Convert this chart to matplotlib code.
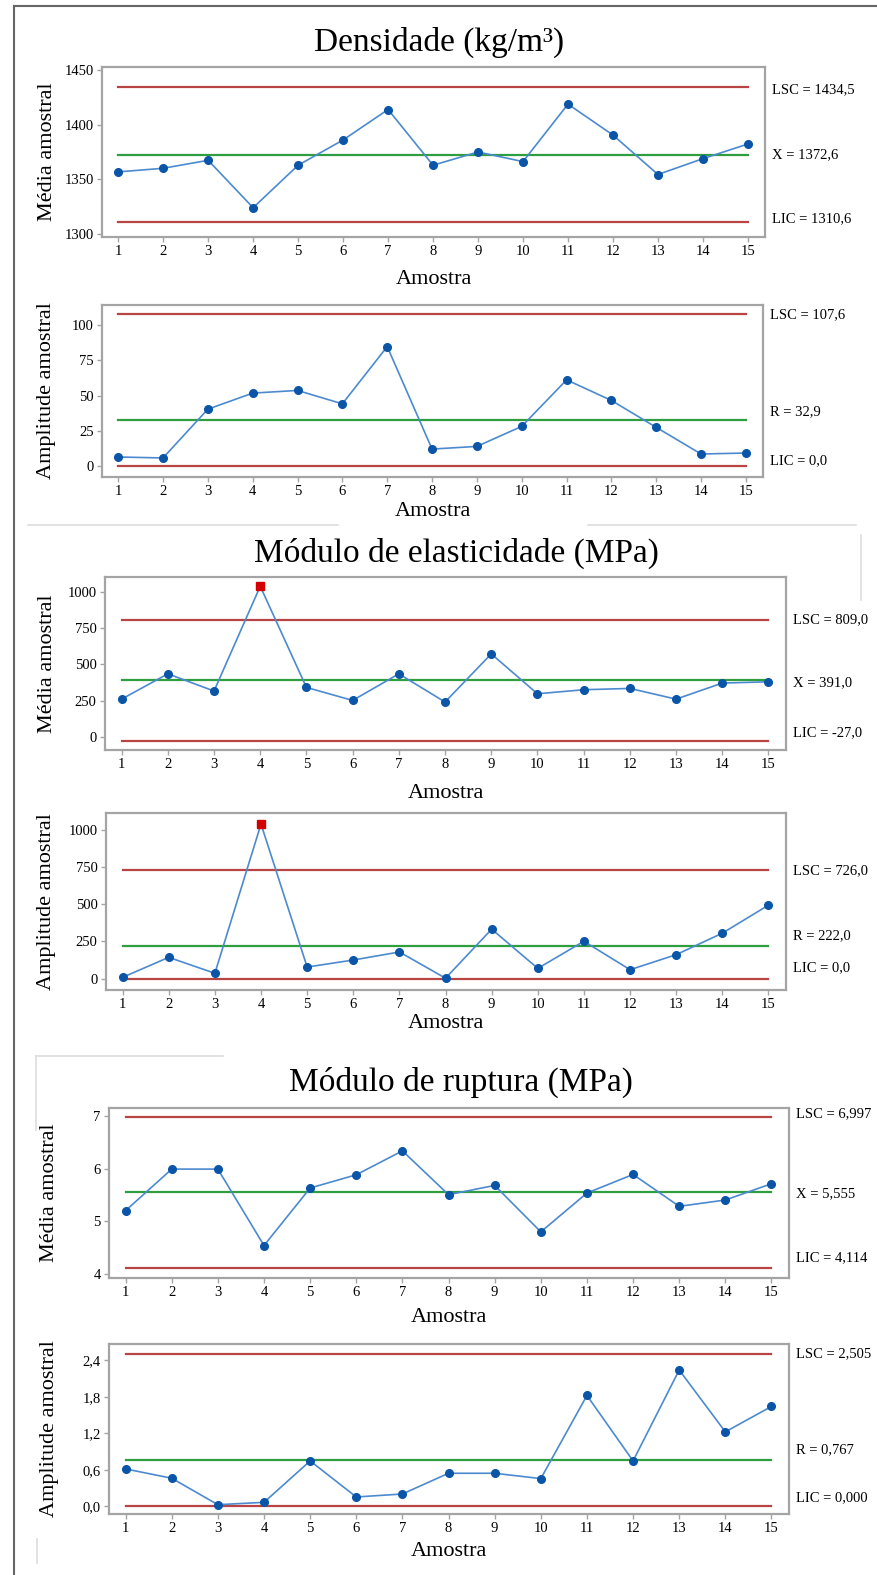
#!/usr/bin/env python
# -*- coding: utf-8 -*-

import matplotlib
matplotlib.use('Agg')
import matplotlib.pyplot as plt
from matplotlib.lines import Line2D

# dados (cartas X-barra e R, 15 amostras)
amostras = list(range(1, 16))

dens_media = [1356.8, 1360.1, 1367.4, 1324.0, 1362.9, 1386.0, 1413.9, 1362.9,
              1375.0, 1366.2, 1418.8, 1390.5, 1354.4, 1368.9, 1382.3]
dens_amplitude = [6.4, 5.7, 40.3, 51.7, 53.6, 44.1, 84.7, 12.0,
                  13.9, 28.1, 61.1, 46.5, 27.4, 8.5, 9.2]
dens_lim_media = [1434.5, 1372.6, 1310.6]  # LSC, X, LIC
dens_lim_amplitude = [107.6, 32.9, 0.0]

moe_media = [260, 435, 316, 1041, 341, 251, 435, 240,
             573, 297, 325, 334, 260, 371, 380]
moe_amplitude = [9, 143, 36, 1037, 78, 125, 179, 3,
                 332, 69, 251, 60, 161, 305, 493]
moe_lim_media = [809.0, 391.0, -27.0]
moe_lim_amplitude = [726.0, 222.0, 0.0]

mor_media = [5.204, 5.996, 5.996, 4.538, 5.635, 5.888, 6.344, 5.508,
             5.685, 4.798, 5.539, 5.894, 5.286, 5.406, 5.717]
mor_amplitude = [0.615, 0.462, 0.027, 0.066, 0.747, 0.154, 0.203, 0.544,
                 0.544, 0.456, 1.824, 0.747, 2.242, 1.225, 1.643]
mor_lim_media = [6.997, 5.555, 4.114]
mor_lim_amplitude = [2.505, 0.767, 0.000]

titulos = ["Densidade (kg/m³)", "Módulo de elasticidade (MPa)", "Módulo de ruptura (MPa)"]

rotulos_lim = [
    ["LSC = 1434,5", "X = 1372,6", "LIC = 1310,6"],
    ["LSC = 107,6", "R = 32,9", "LIC = 0,0"],
    ["LSC = 809,0", "X = 391,0", "LIC = -27,0"],
    ["LSC = 726,0", "R = 222,0", "LIC = 0,0"],
    ["LSC = 6,997", "X = 5,555", "LIC = 4,114"],
    ["LSC = 2,505", "R = 0,767", "LIC = 0,000"],
]

yticks = [
    [1300, 1350, 1400, 1450],
    [0, 25, 50, 75, 100],
    [0, 250, 500, 750, 1000],
    [0, 250, 500, 750, 1000],
    [4, 5, 6, 7],
    [0.0, 0.6, 1.2, 1.8, 2.4],
]
yticklabels = [
    ["1300", "1350", "1400", "1450"],
    ["0", "25", "50", "75", "100"],
    ["0", "250", "500", "750", "1000"],
    ["0", "250", "500", "750", "1000"],
    ["4", "5", "6", "7"],
    ["0,0", "0,6", "1,2", "1,8", "2,4"],
]

# ---- layout (pixels da imagem 877x1575) ----
W, H = 877, 1575
caixas = [  # left, top, right, bottom
    (102, 67, 765, 237),
    (102, 305, 763, 477),
    (105, 577, 786, 750),
    (106, 813, 786, 990),
    (109, 1108, 789, 1278),
    (109, 1344, 789, 1514),
]
ylims = [(1297.2, 1452.8), (-7.8, 114.2), (-92, 1105),
         (-76, 1111), (3.918, 7.162), (-0.126, 2.67)]
# deslocamento vertical dos rotulos LSC / centro / LIC (pontos)
desloc = [(-2, 0, 3), (0, 6, 4), (0, -2, 6), (0, 7, 8), (2, -1, 7), (0, 7, 6)]
titulo_pos = [(439, 42), (456, 553), (461, 1082)]
amostra_y = [279, 511, 793, 1024, 1318, 1551]
ylabel_x = [47, 47, 47, 47, 50, 50]

VERMELHO = '#B84543'
VERDE = '#2E9E3E'
AZUL_LINHA = '#4C8AD0'
AZUL_PONTO = '#0A55A8'
CINZA = '#A4A4A4'
FONTE = ['Liberation Serif', 'DejaVu Serif']


def main():
    plt.rcParams['font.family'] = FONTE
    fig = plt.figure(figsize=(W / 100., H / 100.), dpi=100)

    series = [dens_media, dens_amplitude, moe_media, moe_amplitude, mor_media, mor_amplitude]
    limites = [dens_lim_media, dens_lim_amplitude, moe_lim_media, moe_lim_amplitude,
               mor_lim_media, mor_lim_amplitude]
    ylabels = ["Média amostral", "Amplitude amostral"] * 3

    for i in range(6):
        l, t, r, b = caixas[i]
        ax = fig.add_axes([l / W, 1 - b / H, (r - l) / W, (b - t) / H])

        lsc, centro, lic = limites[i]
        x0, x1 = amostras[0], amostras[-1]
        ax.plot([x0, x1], [lsc, lsc], color=VERMELHO, lw=1.6, zorder=1)
        ax.plot([x0, x1], [lic, lic], color=VERMELHO, lw=1.6, zorder=1)
        ax.plot([x0, x1], [centro, centro], color=VERDE, lw=1.6, zorder=1)

        ax.plot(amostras, series[i], color=AZUL_LINHA, lw=1.2, zorder=2)
        # pontos fora de controle em vermelho (quadrado)
        dentro_x = [a for a, v in zip(amostras, series[i]) if v <= lsc]
        dentro_y = [v for v in series[i] if v <= lsc]
        fora_x = [a for a, v in zip(amostras, series[i]) if v > lsc]
        fora_y = [v for v in series[i] if v > lsc]
        ax.plot(dentro_x, dentro_y, 'o', color=AZUL_PONTO, ms=5.5, zorder=3)
        ax.plot(fora_x, fora_y, 's', color='#D40000', ms=5.5, zorder=3)

        for k, v in enumerate(limites[i]):
            ax.annotate(rotulos_lim[i][k], xy=(1, v), xycoords=('axes fraction', 'data'),
                        xytext=(5, desloc[i][k]), textcoords='offset points',
                        va='center', ha='left', fontsize=10.5, annotation_clip=False)

        ax.set_xlim(0.64, 15.38)
        ax.set_ylim(*ylims[i])
        ax.set_xticks(amostras)
        ax.set_yticks(yticks[i])
        ax.set_yticklabels(yticklabels[i])
        ax.tick_params(direction='out', length=3.5, width=1, color=CINZA,
                       labelsize=10.5, pad=2.5)
        for s in ax.spines.values():
            s.set_color(CINZA)
            s.set_linewidth(1.6)

        fig.text((l + r) / 2. / W, 1 - amostra_y[i] / H, "Amostra",
                 ha='center', va='center', fontsize=16)
        fig.text(ylabel_x[i] / W, 1 - (t + b) / 2. / H, ylabels[i],
                 ha='center', va='center', rotation=90, fontsize=16)

    for j in range(3):
        x, y = titulo_pos[j]
        fig.text(x / W, 1 - y / H, titulos[j], ha='center', va='center', fontsize=24)

    # molduras e restos de linhas do documento original
    def linha(xs, ys, cor, lw):
        fig.add_artist(Line2D([v / W for v in xs], [1 - v / H for v in ys],
                              transform=fig.transFigure, color=cor, lw=lw))

    linha([14, 14], [6, 1575], '#666666', 1.5)
    linha([14, 877], [6, 6], '#666666', 1.5)
    linha([28, 338], [525, 525], '#DDDDDD', 1.2)
    linha([588, 856], [525, 525], '#DDDDDD', 1.2)
    linha([861, 861], [535, 600], '#DDDDDD', 1.2)
    linha([36, 223], [1056, 1056], '#DDDDDD', 1.2)
    linha([36, 36], [1056, 1130], '#DDDDDD', 1.2)
    linha([37, 37], [1539, 1563], '#DDDDDD', 1.2)

    fig.savefig('out.png', dpi=100)


if __name__ == '__main__':
    main()
